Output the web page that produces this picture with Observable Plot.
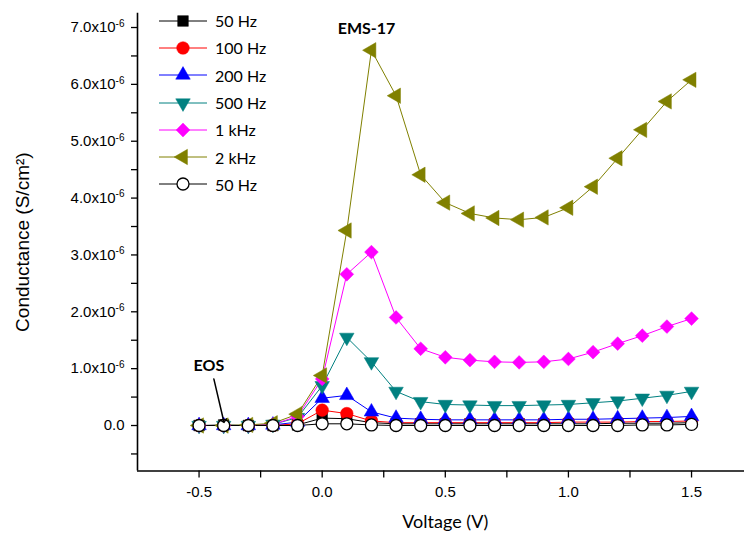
<!DOCTYPE html>
<html><head><meta charset="utf-8">
<script src="https://cdn.jsdelivr.net/npm/d3@7"></script>
<script src="https://cdn.jsdelivr.net/npm/@observablehq/plot@0.6"></script>
<style>
html,body{margin:0;padding:0;background:#fff;overflow:hidden;}
#wrap{position:relative;width:744px;height:533px;overflow:hidden;}
#legend{position:absolute;left:158px;top:7px;font-family:Lato,"Open Sans",sans-serif;font-size:16px;color:#000;}
.row{display:flex;align-items:center;height:27.3px;}
.row svg{display:block;margin-right:5px;}
</style></head><body><div id="wrap"></div>
<script>
// ---- data (conductance in units of 1e-6 S/cm^2) ----
const voltage = [-0.5,-0.4,-0.3,-0.2,-0.1,0,0.1,0.2,0.3,0.4,0.5,0.6,0.7,0.8,0.9,1.0,1.1,1.2,1.3,1.4,1.5];
const ems50  = [0,0.01,0,0,0.01,0.13,0.12,0.05,0.03,0.03,0.03,0.03,0.03,0.03,0.03,0.03,0.03,0.04,0.04,0.04,0.05];
const ems100 = [0,0,0,0,0.03,0.27,0.21,0.08,0.05,0.05,0.05,0.05,0.05,0.05,0.05,0.06,0.06,0.06,0.07,0.07,0.08];
const ems200 = [0,0,0,0.01,0.06,0.48,0.53,0.24,0.13,0.11,0.10,0.10,0.10,0.10,0.10,0.11,0.11,0.12,0.13,0.14,0.16];
const ems500 = [0,0,0,0.02,0.14,0.70,1.55,1.12,0.60,0.42,0.37,0.36,0.35,0.35,0.36,0.37,0.40,0.43,0.48,0.53,0.60];
const ems1k  = [0,0,0,0.02,0.16,0.82,2.66,3.05,1.90,1.35,1.20,1.15,1.12,1.11,1.12,1.17,1.29,1.44,1.58,1.74,1.88];
const ems2k  = [0,0,0.01,0.04,0.20,0.88,3.43,6.60,5.80,4.41,3.92,3.73,3.65,3.62,3.66,3.83,4.20,4.70,5.20,5.70,6.08];
const eos50  = [0,0,0,0,0,0.03,0.03,0.01,0,0,0,0,0,0,0,0,0,0,0.01,0.01,0.02];

const seriesLabels = ["50 Hz","100 Hz","200 Hz","500 Hz","1 kHz","2 kHz","50 Hz"];
const seriesValues = [ems50, ems100, ems200, ems500, ems1k, ems2k, eos50];
const seriesStroke = ["#000000","#ff0000","#0000ff","#008080","#ff00ff","#808000","#000000"];
const seriesFill   = ["#000000","#ff0000","#0000ff","#008080","#ff00ff","#808000","#ffffff"];
const seriesSymbol = [d3.symbolSquare, d3.symbolCircle, d3.symbolTriangle, d3.symbolTriangle, d3.symbolDiamond2, d3.symbolTriangle, d3.symbolCircle];
const seriesRotate = [0,0,0,180,0,-90,0];
const seriesR      = [6,6.3,5.4,5.4,6.2,5.7,6];

const xMajor = [-0.5,0,0.5,1.0,1.5];
const xMinor = [-0.25,0.25,0.75,1.25];
const yMajor = [0,1,2,3,4,5,6,7];
const yMinor = [-0.5,0.5,1.5,2.5,3.5,4.5,5.5,6.5];

const labels = [
  {x: 0.18, y: 6.98, text: "EMS-17"},
  {x: -0.46, y: 1.05, text: "EOS"}
];
const arrowPath = [{x: -0.44, y: 0.82}, {x: -0.40, y: 0.08}];

const xDomain = [-0.75, 1.75];
const yDomain = [-0.8, 7.25];

// ---- build table ----
const rows = seriesValues.map((vals, i) => voltage.map((v, j) => ({s: i, v, g: vals[j]})));

const tickFont = "'Liberation Sans', Arial, sans-serif";
const textFont = "Lato, 'Open Sans', sans-serif";

const marks = [];
rows.forEach((r, i) => {
  marks.push(Plot.line(r, {x: "v", y: "g", stroke: seriesStroke[i], strokeWidth: 1}));
});
rows.forEach((r, i) => {
  marks.push(Plot.dot(r, {x: "v", y: "g", symbol: seriesSymbol[i], r: seriesR[i], fill: seriesFill[i],
    stroke: seriesStroke[i], strokeWidth: i === 6 ? 1.3 : 0.5, rotate: seriesRotate[i]}));
});

const chart = Plot.plot({
  width: 744, height: 533,
  marginLeft: 137, marginRight: -8.6, marginTop: 12.8, marginBottom: 62.5,
  x: {domain: xDomain},
  y: {domain: yDomain},
  style: {background: "#fff", color: "#000", fontFamily: tickFont, fontSize: "15px", overflow: "hidden"},
  marks: [
    Plot.axisY({ticks: yMajor, tickSize: 6, tickPadding: 7, fontSize: 15, fontFamily: tickFont,
      tickFormat: d => d === 0 ? "0.0" : d.toFixed(1) + "x10", label: null, strokeWidth: 1.3}),
    Plot.axisY({ticks: yMinor, tickSize: 6, tickFormat: () => "", label: null, strokeWidth: 1.3}),
    Plot.axisX({ticks: xMajor, tickSize: 7, tickPadding: 8, fontSize: 15, fontFamily: tickFont,
      tickFormat: d => d.toFixed(1), label: null, strokeWidth: 1.3}),
    Plot.axisX({ticks: xMinor, tickSize: 7, tickFormat: () => "", label: null, strokeWidth: 1.3}),
    Plot.ruleX([xDomain[0]], {strokeWidth: 1.6}),
    Plot.ruleY([yDomain[0]], {strokeWidth: 1.6}),
    ...marks,
    Plot.text(labels, {x: "x", y: "y", text: "text", fontWeight: "bold", fontSize: 16, fontFamily: textFont}),
    Plot.line(arrowPath, {x: "x", y: "y", stroke: "#000", strokeWidth: 1.5, markerEnd: "arrow"}),
    Plot.text(["Conductance (S/cm²)"], {frameAnchor: "left", textAnchor: "middle", dx: -115, rotate: -90, fontSize: 19, fontFamily: tickFont}),
    Plot.text(["Voltage (V)"], {frameAnchor: "bottom", dy: 56.5, fontSize: 18, fontFamily: textFont})
  ]
});

// superscript exponent on y tick labels
d3.select(chart).selectAll('g[aria-label="y-axis tick label"] text').each(function() {
  const t = d3.select(this);
  if (t.text().endsWith("x10")) {
    t.append("tspan").attr("dy", "-0.55em").attr("font-size", "10px").text("-6");
  }
});

const wrap = document.getElementById("wrap");
wrap.appendChild(chart);

// legend overlay
const legend = document.createElement("div");
legend.id = "legend";
seriesLabels.forEach((lab, i) => {
  const row = document.createElement("div");
  row.className = "row";
  const svg = d3.create("svg").attr("width", 52).attr("height", 20);
  svg.append("line").attr("x1", 1).attr("x2", 49).attr("y1", 10).attr("y2", 10)
    .attr("stroke", seriesStroke[i]).attr("stroke-width", 1);
  svg.append("path")
    .attr("d", d3.symbol(seriesSymbol[i], Math.PI * seriesR[i] * seriesR[i])())
    .attr("transform", `translate(25,10) rotate(${seriesRotate[i]})`)
    .attr("fill", seriesFill[i]).attr("stroke", seriesStroke[i]).attr("stroke-width", i === 6 ? 1.3 : 0.5);
  row.appendChild(svg.node());
  const span = document.createElement("span");
  span.textContent = lab;
  row.appendChild(span);
  legend.appendChild(row);
});
wrap.appendChild(legend);
</script></body></html>
